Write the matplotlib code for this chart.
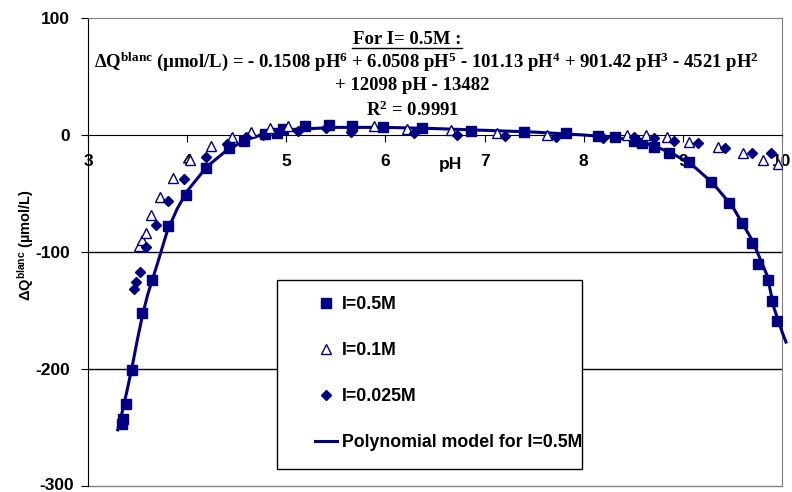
import matplotlib
matplotlib.use("Agg")
import matplotlib.pyplot as plt
from matplotlib.patches import Rectangle
from matplotlib.lines import Line2D

plt.rcParams['mathtext.default'] = 'regular'
plt.rcParams['axes.unicode_minus'] = False

# I=0.5M (squares)
sq_ph = [3.34, 3.35, 3.38, 3.44, 3.54, 3.65, 3.81, 3.99, 4.19, 4.42, 4.57, 4.79, 4.91,
         4.97, 5.19, 5.43, 5.66, 5.98, 6.37, 6.86, 7.40, 7.82, 8.14, 8.32, 8.51, 8.59,
         8.71, 8.86, 9.06, 9.28, 9.47, 9.60, 9.70, 9.76, 9.86, 9.90, 9.95]
sq_q = [-247, -243, -230, -201, -152, -124, -78, -51, -28, -11, -5, 1, 2,
        5, 8, 8.5, 8, 7, 6, 3, 2.3, 1.4, -0.6, -1.4, -5, -7,
        -10, -15, -23, -40, -58, -75, -92, -110, -124, -142, -159]

# I=0.1M (open triangles)
tri_ph = [3.51, 3.54, 3.58, 3.64, 3.73, 3.86, 4.03, 4.24, 4.45, 4.64, 4.84, 5.02, 5.88,
          6.22, 6.66, 7.13, 7.63, 8.44, 8.63, 8.84, 9.06, 9.35, 9.61, 9.81, 9.96]
tri_q = [-95, -90, -84, -68, -53, -37, -21, -9, -1.4, 2.8, 5.7, 8, 7.7,
         4.8, 4.3, 1.4, 0, 0, 0, -2, -5.7, -10, -15.7, -21.4, -24.8]

# I=0.025M (diamonds)
dia_ph = [3.46, 3.48, 3.52, 3.59, 3.69, 3.81, 3.97, 4.19, 4.40, 4.59, 4.77, 5.12, 5.40,
          5.65, 6.29, 6.72, 7.21, 7.72, 8.19, 8.51, 8.71, 8.91, 9.15, 9.43, 9.70, 9.89]
dia_q = [-132, -126, -117, -96, -77, -56, -38, -19, -7.7, -2, 0, 3.5, 5.7,
         2.8, 1.4, 0, -0.9, -2, -2.8, -2, -2.8, -5, -7, -11.4, -15.7, -15.7]

# polynomial model for I=0.5M
curve_ph = [3.30, 3.35, 3.40, 3.45, 3.50, 3.55, 3.60, 3.70, 3.80, 3.90, 4.00, 4.20, 4.40,
            4.60, 4.80, 5.00, 5.50, 6.00, 6.50, 7.00, 7.50, 8.00, 8.30, 8.50, 8.70, 8.90,
            9.10, 9.30, 9.50, 9.70, 9.85, 9.92, 10.00, 10.04]
curve_q = [-252, -235, -216, -196, -174, -154, -137, -110, -82, -63, -48, -27, -13,
           -4, 1.5, 4.5, 6.5, 6.5, 5.5, 4, 2.5, 0, -2, -4.5, -9, -16,
           -26, -41, -61, -90, -120, -148, -168, -177]

y_ticks = [-300, -200, -100, 0, 100]
navy = '#000080'
W, H = 792, 492

fig = plt.figure(figsize=(W / 100, H / 100), dpi=100)
ax = fig.add_axes([88 / W, 1 - 486 / H, 694 / W, 468 / H])

ax.set_xlim(3, 10)
ax.set_ylim(-300, 100)

for g in [-100, -200]:
    ax.axhline(g, color='black', lw=1, zorder=1)

ax.plot(curve_ph, curve_q, color=navy, lw=2.2, zorder=3, clip_on=False)
ax.plot(sq_ph, sq_q, 's', color=navy, ms=6.5, zorder=4, ls='none')
ax.plot(tri_ph, tri_q, '^', mfc='white', mec=navy, mew=1.0, ms=7, zorder=4, ls='none')
ax.plot(dia_ph, dia_q, 'D', color=navy, ms=5.5, zorder=4, ls='none')

# frame
for s in ['top', 'right']:
    ax.spines[s].set_color('#808080')
ax.spines['left'].set_color('black')
ax.spines['bottom'].set_position(('data', 0))
ax.spines['bottom'].set_color('black')
ax.plot([0, 1], [0, 0], transform=ax.transAxes, color='#808080', lw=1, clip_on=False)

tick_font = dict(fontfamily='Liberation Sans', fontweight='bold', fontsize=12.5)
ax.set_xticks(range(3, 11))
ax.set_yticks(y_ticks)
ax.set_yticklabels(['' if v == -300 else str(v) for v in y_ticks])
ax.tick_params(axis='x', direction='out', length=5, pad=9)
ax.tick_params(axis='y', direction='out', length=5, pad=8)
for lab in ax.get_xticklabels() + ax.get_yticklabels():
    lab.set_fontfamily('Liberation Sans')
    lab.set_fontweight('bold')
    lab.set_fontsize(12.5)
# bottom label lifted a little so it stays inside the picture
fig.text(74 / W, 1 - 485 / H, '-300', ha='right', va='center', **tick_font)

ax.text(6.66, -25.6, 'pH', ha='center', va='center', **tick_font)

fig.text(26 / W, 1 - 245 / H, 'ΔQ$^{blanc}$ (µmol/L)', rotation=90, ha='center', va='center',
         fontsize=10.5, fontfamily='Liberation Sans', fontweight='bold')

# equation block
eq_font = dict(fontfamily='Liberation Serif', fontweight='bold', fontsize=13.5)
fig.text(407 / W, 1 - 39 / H, 'For I= 0.5M :', ha='center', va='center', **eq_font)
ax.plot([352 / W, 462 / W], [1 - 48 / H, 1 - 48 / H], transform=fig.transFigure,
        color='black', lw=1, clip_on=False)
fig.text(426 / W, 1 - 62 / H,
         'ΔQ$^{blanc}$ (µmol/L) = - 0.1508 pH$^{6}$ + 6.0508 pH$^{5}$ - 101.13 pH$^{4}$'
         ' + 901.42 pH$^{3}$ - 4521 pH$^{2}$', ha='center', va='center', **eq_font)
fig.text(412 / W, 1 - 86 / H, '+ 12098 pH - 13482', ha='center', va='center', **eq_font)
fig.text(413 / W, 1 - 110 / H, 'R$^{2}$ = 0.9991', ha='center', va='center', **eq_font)

# legend box
ax.add_patch(Rectangle((277 / W, 1 - 469 / H), 305 / W, 189 / H, transform=fig.transFigure,
                       facecolor='white', edgecolor='black', lw=1, zorder=5, clip_on=False))
handles = [
    Line2D([], [], marker='s', color=navy, ls='none', ms=6.5),
    Line2D([], [], marker='^', mfc='white', mec=navy, ls='none', ms=7),
    Line2D([], [], marker='D', color=navy, ls='none', ms=5.5),
    Line2D([], [], color=navy, lw=2.2),
]
labels = ['I=0.5M', 'I=0.1M', 'I=0.025M', 'Polynomial model for I=0.5M']
leg = ax.legend(handles, labels, loc='upper left', bbox_to_anchor=(315 / W, 1 - 296 / H),
                bbox_transform=fig.transFigure, frameon=False, handlelength=1.25,
                handletextpad=0.25, labelspacing=1.64, borderpad=0, borderaxespad=0,
                prop={'family': 'Liberation Sans', 'weight': 'bold', 'size': 12.8})
leg.set_zorder(6)

fig.savefig('out.png', dpi=100)
